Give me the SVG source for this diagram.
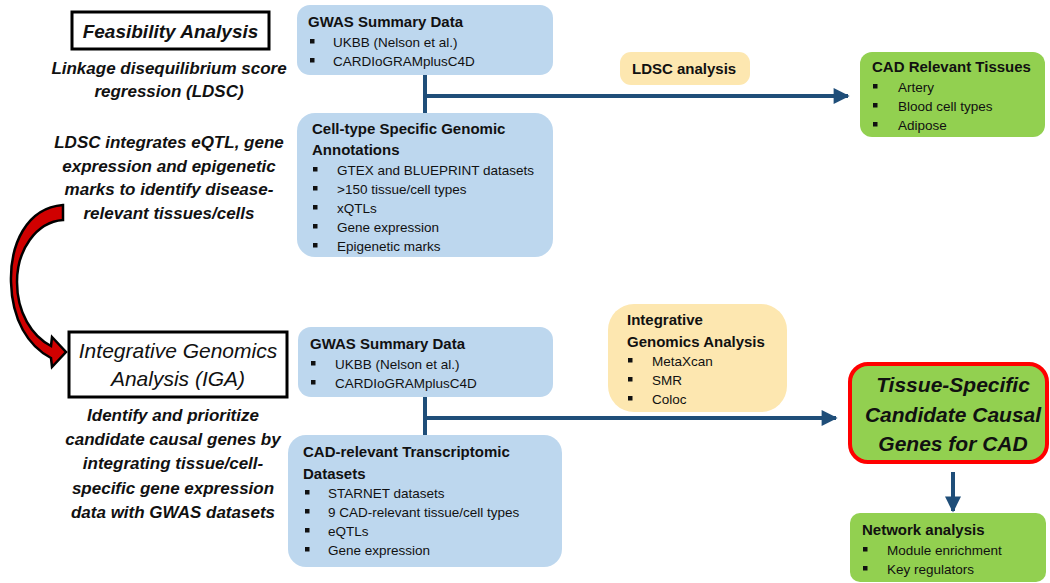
<svg xmlns="http://www.w3.org/2000/svg" width="1050" height="583" viewBox="0 0 1050 583">
<defs>
<style>
.bg{fill:#ffffff}
.blue{fill:#bdd7ee}
.tan{fill:#fde7b0}
.green{fill:#92d050}
.frame{fill:#ffffff;stroke:#000;stroke-width:3}
.t{font-family:"Liberation Sans",Arial,sans-serif;font-size:13.5px;fill:#111}
.h{font-family:"Liberation Sans",Arial,sans-serif;font-size:15px;font-weight:bold;fill:#111}
.bi{font-family:"Liberation Sans",Arial,sans-serif;font-size:17px;font-weight:bold;font-style:italic;fill:#111;text-anchor:middle}
.big{font-family:"Liberation Sans",Arial,sans-serif;font-size:21px;font-style:italic;fill:#111;text-anchor:middle}
.bigb{font-family:"Liberation Sans",Arial,sans-serif;font-size:19px;font-weight:bold;font-style:italic;fill:#111;text-anchor:middle}
.cc{font-family:"Liberation Sans",Arial,sans-serif;font-size:21px;font-weight:bold;font-style:italic;fill:#111;text-anchor:middle}
.b{fill:#111}
.conn{fill:none;stroke:#1f4e79;stroke-width:4}
</style>
<marker id="ah" viewBox="0 0 10 10" refX="9" refY="5" markerWidth="4.2" markerHeight="4" orient="auto" markerUnits="strokeWidth">
<path d="M0,0 L10,5 L0,10 Z" fill="#1f4e79"/>
</marker>
</defs>
<rect class="bg" x="0" y="0" width="1050" height="583"/>

<g id="connectors">
<path class="conn" d="M425,75 V113"/>
<path class="conn" d="M425,96 H848" marker-end="url(#ah)"/>
<path class="conn" d="M425,397 V435"/>
<path class="conn" d="M425,418 H836" marker-end="url(#ah)"/>
<path class="conn" d="M953,472 V511" marker-end="url(#ah)"/>
<path id="curved-arrow" d="M63,205 C26,208 10,245 11,282 C12,320 28,346 51,358 L52,367 L66,352 L52,337 L51,346 C32,336 17,313 17,282 C17,250 36,222 63,220 Z" fill="#d00000" stroke="#000" stroke-width="2.5" stroke-linejoin="miter"/>
</g>

<g id="feasibility">
<rect class="frame" x="72" y="12" width="197" height="37"/>
<text class="bigb" x="170.5" y="38">Feasibility Analysis</text>
</g>
<g id="ldsc-desc">
<text class="bi" x="169" y="74">Linkage disequilibrium score</text>
<text class="bi" x="169" y="97">regression (LDSC)</text>
<text class="bi" x="169" y="148">LDSC integrates eQTL, gene</text>
<text class="bi" x="169" y="172">expression and epigenetic</text>
<text class="bi" x="169" y="195">marks to identify disease-</text>
<text class="bi" x="169" y="219">relevant tissues/cells</text>
</g>

<g id="iga">
<rect class="frame" x="69" y="332" width="218" height="65"/>
<text class="big" x="178" y="358">Integrative Genomics</text>
<text class="big" x="178" y="386">Analysis (IGA)</text>
</g>
<g id="iga-desc">
<text class="bi" x="173" y="421">Identify and prioritize</text>
<text class="bi" x="173" y="445">candidate causal genes by</text>
<text class="bi" x="173" y="469">integrating tissue/cell-</text>
<text class="bi" x="173" y="494">specific gene expression</text>
<text class="bi" x="173" y="518">data with GWAS datasets</text>
</g>

<g id="gwas-top">
<rect class="blue" x="297" y="5" width="256" height="70" rx="13"/>
<text class="h" x="308" y="27">GWAS Summary Data</text>
<rect class="b" x="310" y="39" width="4.5" height="4.5"/>
<text class="t" x="333" y="47">UKBB (Nelson et al.)</text>
<rect class="b" x="310" y="58" width="4.5" height="4.5"/>
<text class="t" x="333" y="66">CARDIoGRAMplusC4D</text>
</g>

<g id="celltype">
<rect class="blue" x="297" y="113" width="256" height="144" rx="18"/>
<text class="h" x="312" y="134">Cell-type Specific Genomic</text>
<text class="h" x="312" y="155">Annotations</text>
<rect class="b" x="313" y="167" width="4.5" height="4.5"/>
<text class="t" x="337" y="175">GTEX and BLUEPRINT datasets</text>
<rect class="b" x="313" y="186" width="4.5" height="4.5"/>
<text class="t" x="337" y="194">&gt;150 tissue/cell types</text>
<rect class="b" x="313" y="205" width="4.5" height="4.5"/>
<text class="t" x="337" y="213">xQTLs</text>
<rect class="b" x="313" y="224" width="4.5" height="4.5"/>
<text class="t" x="337" y="232">Gene expression</text>
<rect class="b" x="313" y="243" width="4.5" height="4.5"/>
<text class="t" x="337" y="251">Epigenetic marks</text>
</g>

<g id="ldsc-analysis">
<rect class="tan" x="620" y="52" width="130" height="33" rx="11"/>
<text class="h" x="632" y="74">LDSC analysis</text>
</g>

<g id="cad-tissues">
<rect class="green" x="860" y="52" width="185" height="85" rx="12"/>
<text class="h" x="872" y="72">CAD Relevant Tissues</text>
<rect class="b" x="873" y="84" width="4.5" height="4.5"/>
<text class="t" x="898" y="92">Artery</text>
<rect class="b" x="873" y="103" width="4.5" height="4.5"/>
<text class="t" x="898" y="111">Blood cell types</text>
<rect class="b" x="873" y="122" width="4.5" height="4.5"/>
<text class="t" x="898" y="130">Adipose</text>
</g>

<g id="gwas-bottom">
<rect class="blue" x="298" y="327" width="255" height="70" rx="13"/>
<text class="h" x="310" y="349">GWAS Summary Data</text>
<rect class="b" x="311" y="361" width="4.5" height="4.5"/>
<text class="t" x="335" y="369">UKBB (Nelson et al.)</text>
<rect class="b" x="311" y="380" width="4.5" height="4.5"/>
<text class="t" x="335" y="388">CARDIoGRAMplusC4D</text>
</g>

<g id="transcriptomic">
<rect class="blue" x="288" y="435" width="274" height="132" rx="18"/>
<text class="h" x="303" y="457">CAD-relevant Transcriptomic</text>
<text class="h" x="303" y="479">Datasets</text>
<rect class="b" x="305" y="490" width="4.5" height="4.5"/>
<text class="t" x="328" y="498">STARNET datasets</text>
<rect class="b" x="305" y="509" width="4.5" height="4.5"/>
<text class="t" x="328" y="517">9 CAD-relevant tissue/cell types</text>
<rect class="b" x="305" y="528" width="4.5" height="4.5"/>
<text class="t" x="328" y="536">eQTLs</text>
<rect class="b" x="305" y="547" width="4.5" height="4.5"/>
<text class="t" x="328" y="555">Gene expression</text>
</g>

<g id="iga-methods">
<rect class="tan" x="608" y="304" width="179" height="108" rx="26"/>
<text class="h" x="627" y="325">Integrative</text>
<text class="h" x="627" y="347">Genomics Analysis</text>
<rect class="b" x="628" y="358" width="4.5" height="4.5"/>
<text class="t" x="652" y="366">MetaXcan</text>
<rect class="b" x="628" y="377" width="4.5" height="4.5"/>
<text class="t" x="652" y="385">SMR</text>
<rect class="b" x="628" y="396" width="4.5" height="4.5"/>
<text class="t" x="652" y="404">Coloc</text>
</g>

<g id="candidate-genes">
<rect class="green" x="850" y="364" width="197" height="98" rx="18" stroke="#ff0000" stroke-width="4"/>
<text class="cc" x="953" y="392">Tissue-Specific</text>
<text class="cc" x="953" y="422">Candidate Causal</text>
<text class="cc" x="953" y="451">Genes for CAD</text>
</g>

<g id="network">
<rect class="green" x="850" y="513" width="196" height="69" rx="10"/>
<text class="h" x="862" y="535">Network analysis</text>
<rect class="b" x="863" y="547" width="4.5" height="4.5"/>
<text class="t" x="887" y="555">Module enrichment</text>
<rect class="b" x="863" y="566" width="4.5" height="4.5"/>
<text class="t" x="887" y="574">Key regulators</text>
</g>
</svg>
